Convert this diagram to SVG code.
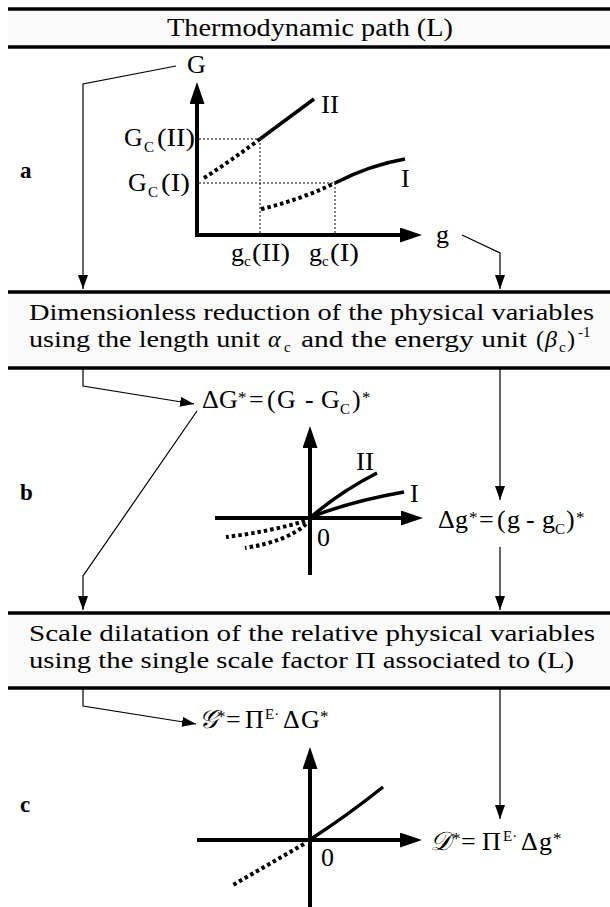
<svg xmlns="http://www.w3.org/2000/svg" width="610" height="907" viewBox="0 0 610 907" font-family="'Liberation Serif', 'Times New Roman', serif">
<style>
text{font-family:"Liberation Serif","Times New Roman",serif;fill:#000;font-size:26px}
.hd{font-size:24px}
.sub{font-size:15px}
.sup{font-size:17px}
.it{font-style:italic}
.cal{font-family:"DejaVu Serif","DejaVu Sans","Noto Sans",serif;font-style:italic}
.bold{font-weight:bold;font-size:23px}
.rule{stroke:#000;stroke-width:3.5}
.box{fill:#fafafa}
.conn{stroke:#000;stroke-width:1.2;fill:none}
.axis{stroke:#000;stroke-width:4;fill:none}
.curve{stroke:#000;stroke-width:3.5;fill:none}
.dcurve{stroke:#000;stroke-width:4;fill:none;stroke-dasharray:3.5 3}
.guide{stroke:#000;stroke-width:1;fill:none;stroke-dasharray:2 2}
</style>
<defs>
<marker id="ah" markerWidth="14" markerHeight="10" refX="14" refY="5" orient="auto" markerUnits="userSpaceOnUse"><path d="M0,0 L14,5 L0,10 Z"/></marker>
<marker id="axh" markerWidth="22" markerHeight="15" refX="0" refY="7.5" orient="auto" markerUnits="userSpaceOnUse"><path d="M0,0 L22,7.5 L0,15 Z"/></marker>
</defs>

<g id="header-a">
<rect class="box" x="8" y="9" width="602" height="38"/>
<line class="rule" x1="8" y1="9" x2="610" y2="9"/>
<line class="rule" x1="8" y1="47" x2="610" y2="47"/>
<text x="167" y="36" textLength="286" lengthAdjust="spacingAndGlyphs">Thermodynamic path (L)</text>
</g>

<g id="header-b">
<rect class="box" x="8" y="292" width="602" height="76"/>
<line class="rule" x1="8" y1="292" x2="610" y2="292"/>
<line class="rule" x1="8" y1="368" x2="610" y2="368"/>
<text class="hd" x="29" y="320" textLength="565" lengthAdjust="spacingAndGlyphs">Dimensionless reduction of the physical variables</text>
<text class="hd" y="347"><tspan x="29" textLength="231" lengthAdjust="spacingAndGlyphs">using the length unit</tspan><tspan x="268" class="it">α</tspan><tspan x="284" y="352" class="sub">c</tspan><tspan x="301" y="347" textLength="226" lengthAdjust="spacingAndGlyphs">and the energy unit</tspan><tspan x="536">(</tspan><tspan x="545" class="it">β</tspan><tspan x="559" y="352" class="sub">c</tspan><tspan x="567" y="347">)</tspan><tspan x="578" y="337" class="sub">-1</tspan></text>
</g>

<g id="header-c">
<rect class="box" x="8" y="613" width="602" height="75"/>
<line class="rule" x1="8" y1="613" x2="610" y2="613"/>
<line class="rule" x1="8" y1="688" x2="610" y2="688"/>
<text class="hd" x="29" y="641" textLength="566" lengthAdjust="spacingAndGlyphs">Scale dilatation of the relative physical variables</text>
<text class="hd" x="29" y="668" textLength="545" lengthAdjust="spacingAndGlyphs">using the single scale factor Π associated to (L)</text>
</g>

<g id="panel-a">
<text class="bold" x="20" y="178">a</text>
<line class="guide" x1="199" y1="139" x2="260" y2="139"/>
<line class="guide" x1="260" y1="139" x2="260" y2="233"/>
<line class="guide" x1="199" y1="183" x2="335" y2="183"/>
<line class="guide" x1="335" y1="183" x2="335" y2="233"/>
<path class="axis" d="M197,237 L197,104" marker-end="url(#axh)"/>
<path class="axis" d="M195,235 L400,235" marker-end="url(#axh)"/>
<path class="dcurve" d="M204,178 Q232,160 260,139"/>
<path class="curve" d="M260,139 L314,99"/>
<path class="dcurve" d="M261,209 Q300,200 335,183"/>
<path class="curve" d="M335,183 Q370,165 405,159"/>
<text x="187" y="73">G</text>
<text x="436" y="243">g</text>
<text y="146"><tspan x="124">G</tspan><tspan x="144" y="152" class="sub">C</tspan><tspan x="157" y="146" textLength="38" lengthAdjust="spacingAndGlyphs">(II)</tspan></text>
<text y="191"><tspan x="128">G</tspan><tspan x="148" y="197" class="sub">C</tspan><tspan x="161" y="191" textLength="29" lengthAdjust="spacingAndGlyphs">(I)</tspan></text>
<text y="261"><tspan x="231">g</tspan><tspan x="244" y="266" class="sub">c</tspan><tspan x="252" y="261" textLength="38" lengthAdjust="spacingAndGlyphs">(II)</tspan></text>
<text y="261"><tspan x="309">g</tspan><tspan x="322" y="266" class="sub">c</tspan><tspan x="330" y="261" textLength="29" lengthAdjust="spacingAndGlyphs">(I)</tspan></text>
<text x="321" y="113" textLength="18" lengthAdjust="spacingAndGlyphs">II</text>
<text x="401" y="187">I</text>
</g>

<g id="panel-b">
<text class="bold" x="20" y="500">b</text>
<path class="axis" d="M310,575 L310,448" marker-end="url(#axh)"/>
<path class="axis" d="M215,518 L401,518" marker-end="url(#axh)"/>
<path class="curve" d="M311,517 Q340,492 377,473"/>
<path class="curve" d="M311,517 Q352,501 404,492"/>
<path class="dcurve" d="M305,521 Q268,532 226,537"/>
<path class="dcurve" d="M306,524 Q288,541 245,548"/>
<text x="317" y="546">0</text>
<text x="356" y="470" textLength="18" lengthAdjust="spacingAndGlyphs">II</text>
<text x="410" y="502">I</text>
<text id="eq-dG" y="408"><tspan x="202">Δ</tspan><tspan x="219">G</tspan><tspan x="238" y="403" class="sup">*</tspan><tspan x="249" y="408">=</tspan><tspan x="267">(</tspan><tspan x="277">G</tspan><tspan x="305">-</tspan><tspan x="321">G</tspan><tspan x="340" y="414" class="sub">C</tspan><tspan x="352" y="408">)</tspan><tspan x="362" y="403" class="sup">*</tspan></text>
<text id="eq-dg" y="528"><tspan x="438">Δ</tspan><tspan x="455">g</tspan><tspan x="469" y="523" class="sup">*</tspan><tspan x="479" y="528">=</tspan><tspan x="497">(</tspan><tspan x="507">g</tspan><tspan x="526">-</tspan><tspan x="542">g</tspan><tspan x="555" y="534" class="sub">C</tspan><tspan x="566" y="528">)</tspan><tspan x="576" y="523" class="sup">*</tspan></text>
</g>

<g id="panel-c">
<text class="bold" x="20" y="812">c</text>
<path class="axis" d="M310,907 L310,769" marker-end="url(#axh)"/>
<path class="axis" d="M197,840 L400,840" marker-end="url(#axh)"/>
<path class="curve" d="M311,839 Q348,815 383,787"/>
<path class="dcurve" d="M304,844 L233,885"/>
<text x="321" y="866">0</text>
<text id="eq-G" y="728"><tspan x="199" class="cal">𝒢</tspan><tspan x="217" y="722" class="sup">*</tspan><tspan x="226" y="728">=</tspan><tspan x="245">Π</tspan><tspan x="265" y="719" class="sub">E·</tspan><tspan x="283" y="728">Δ</tspan><tspan x="301">G</tspan><tspan x="320" y="722" class="sup">*</tspan></text>
<text id="eq-D" y="850"><tspan x="430" class="cal">𝒟</tspan><tspan x="452" y="844" class="sup">*</tspan><tspan x="461" y="850">=</tspan><tspan x="482">Π</tspan><tspan x="503" y="841" class="sub">E·</tspan><tspan x="521" y="850">Δ</tspan><tspan x="539">g</tspan><tspan x="553" y="844" class="sup">*</tspan></text>
</g>

<g id="connectors">
<path class="conn" d="M176,66 L83,84 L83,289" marker-end="url(#ah)"/>
<path class="conn" d="M462,235 L500,253 L500,289" marker-end="url(#ah)"/>
<path class="conn" d="M83,368 L83,386 L194,404" marker-end="url(#ah)"/>
<path class="conn" d="M197,411 L83,576 L83,610" marker-end="url(#ah)"/>
<path class="conn" d="M500,368 L500,500" marker-end="url(#ah)"/>
<path class="conn" d="M500,547 L500,610" marker-end="url(#ah)"/>
<path class="conn" d="M83,688 L83,706 L196,724" marker-end="url(#ah)"/>
<path class="conn" d="M500,688 L500,819" marker-end="url(#ah)"/>
</g>
</svg>
